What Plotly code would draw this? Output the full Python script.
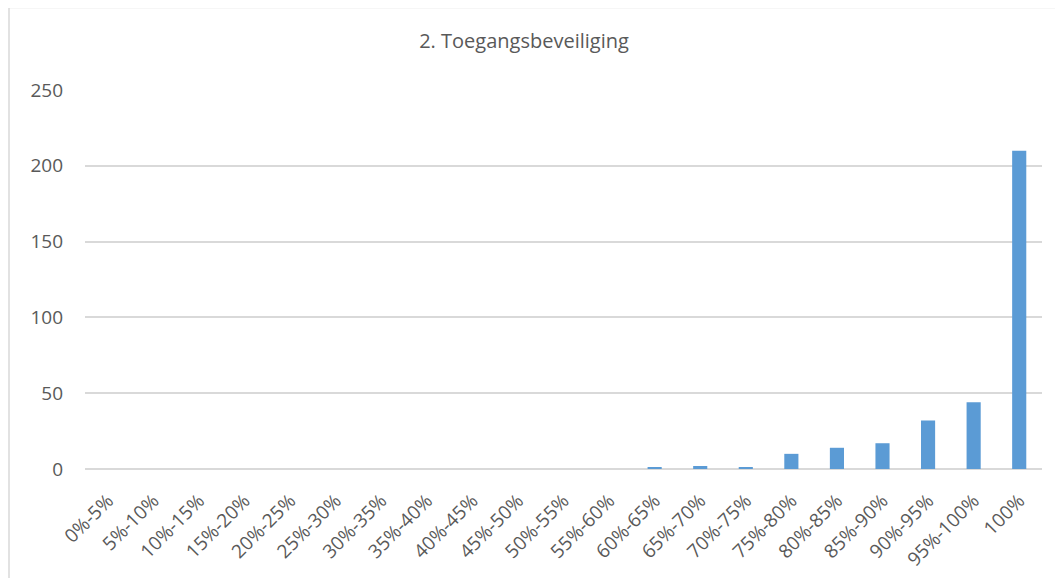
import plotly.graph_objects as go

categories = ["0%-5%", "5%-10%", "10%-15%", "15%-20%", "20%-25%", "25%-30%", "30%-35%",
              "35%-40%", "40%-45%", "45%-50%", "50%-55%", "55%-60%", "60%-65%", "65%-70%",
              "70%-75%", "75%-80%", "80%-85%", "85%-90%", "90%-95%", "95%-100%", "100%"]
values = [0, 0, 0, 0, 0, 0, 0, 0, 0, 0, 0, 0, 1, 2, 1, 10, 14, 17, 32, 44, 210]
y_ticks = [0, 50, 100, 150, 200, 250]
title_text = "2. Toegangsbeveiliging"

# page body has an 8px margin, so the figure is placed 8px right/down
OFF = 8
W, H = 1063 - OFF, 578 - OFF
L, R, T = 85 - OFF, 1063 - 1042, 90 - OFF
B = H - (469 - OFF)
pw, ph = W - L - R, H - T - B

FONT = "Open Sans"
TXT = "#595959"
GRID = "#D9D9D9"

fig = go.Figure(go.Bar(x=categories, y=values, marker=dict(color="#5B9BD5", line=dict(width=0))))

def px_to_paper_x(p):
    return (p - OFF - L) / pw

def px_to_paper_y(p):
    return (H - B - (p - OFF)) / ph

fig.update_layout(
    width=W, height=H,
    margin=dict(l=L, r=R, t=T, b=B, autoexpand=False),
    paper_bgcolor="white", plot_bgcolor="white",
    bargap=0.69,
    showlegend=False,
    font=dict(family=FONT, color=TXT),
    title=dict(text=title_text, x=(524 - OFF) / W, xanchor="center", y=1 - (41 - OFF) / H,
               yanchor="middle", font=dict(family=FONT, size=20, color=TXT)),
    xaxis=dict(type="category", tickangle=-45, showgrid=False, showline=False, zeroline=False,
               ticks="", tickfont=dict(family=FONT, size=19, color=TXT), ticklabelstandoff=16),
    yaxis=dict(range=[0, 250], tickvals=y_ticks, showgrid=True, gridcolor=GRID, gridwidth=1.5,
               zeroline=True, zerolinecolor=GRID, zerolinewidth=1.5, showline=False, ticks="",
               tickfont=dict(family=FONT, size=19, color=TXT), ticklabelstandoff=21),
    shapes=[dict(type="rect", xref="paper", yref="paper",
                 x0=px_to_paper_x(9), x1=px_to_paper_x(1090),
                 y0=px_to_paper_y(600), y1=px_to_paper_y(7.5),
                 line=dict(color=GRID, width=1.5), fillcolor="rgba(0,0,0,0)", layer="below")],
)

fig.write_html("out.html")
